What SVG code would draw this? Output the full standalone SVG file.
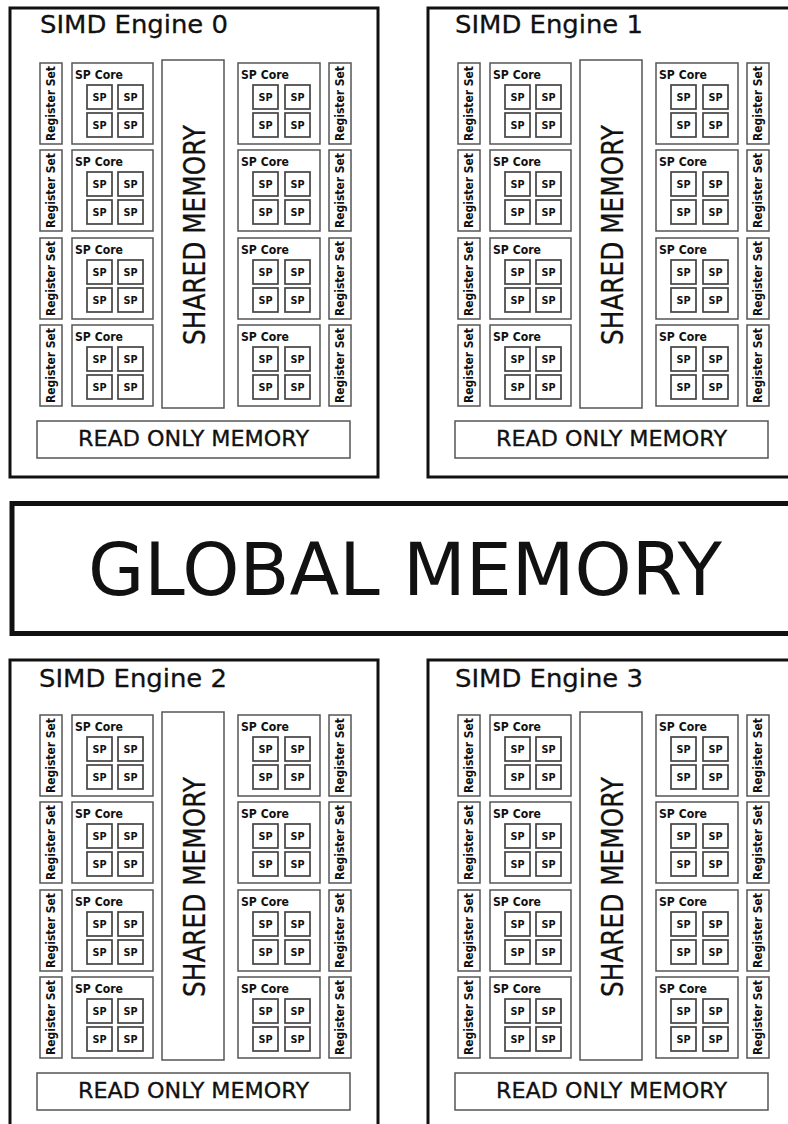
<svg xmlns="http://www.w3.org/2000/svg" width="788" height="1124" viewBox="0 0 788 1124">
<style>
.eng{fill:none;stroke:#111;stroke-width:3}
.box{fill:#fff;stroke:#555;stroke-width:1.5}
.sp{fill:#fff;stroke:#444;stroke-width:1.7}
.t{font-family:"DejaVu Sans","Liberation Sans",sans-serif;fill:#111}
.title{font-size:25.5px;stroke:#111;stroke-width:0.3}
.core{font-size:12px;font-weight:bold}
.spt{font-size:10px;font-weight:bold;text-anchor:middle}
.reg{font-size:12px;font-weight:bold;text-anchor:middle}
.shm{font-size:31px;text-anchor:middle;stroke:#111;stroke-width:0.3}
.rom{font-size:21px;text-anchor:middle;stroke:#111;stroke-width:0.3}
.glob{font-size:73px;text-anchor:middle}
.gbox{fill:#fff;stroke:#111;stroke-width:5}
</style>
<rect width="788" height="1124" fill="#fff"/>

<g id="engine0" transform="translate(0,0)">
<rect class="eng" x="10" y="8" width="368" height="469"/>
<text class="t title" x="40" y="33" textLength="188" lengthAdjust="spacingAndGlyphs">SIMD Engine 0</text>
<g id="e0-regL1" transform="translate(40,63)"><rect class="box" width="22" height="81"/><text class="t reg" transform="translate(15,40.5) rotate(-90)" textLength="75" lengthAdjust="spacingAndGlyphs">Register Set</text></g>
<g id="e0-regL2" transform="translate(40,150)"><rect class="box" width="22" height="81"/><text class="t reg" transform="translate(15,40.5) rotate(-90)" textLength="75" lengthAdjust="spacingAndGlyphs">Register Set</text></g>
<g id="e0-regL3" transform="translate(40,238)"><rect class="box" width="22" height="81"/><text class="t reg" transform="translate(15,40.5) rotate(-90)" textLength="75" lengthAdjust="spacingAndGlyphs">Register Set</text></g>
<g id="e0-regL4" transform="translate(40,325)"><rect class="box" width="22" height="81"/><text class="t reg" transform="translate(15,40.5) rotate(-90)" textLength="75" lengthAdjust="spacingAndGlyphs">Register Set</text></g>
<g id="e0-coreL1" transform="translate(72,63)"><rect class="box" width="81" height="81"/><text class="t core" x="3" y="16" textLength="48" lengthAdjust="spacingAndGlyphs">SP Core</text><rect class="sp" x="15" y="22" width="25" height="24"/><text class="t spt" x="27.5" y="37.8" textLength="14" lengthAdjust="spacingAndGlyphs">SP</text><rect class="sp" x="46" y="22" width="25" height="24"/><text class="t spt" x="58.5" y="37.8" textLength="14" lengthAdjust="spacingAndGlyphs">SP</text><rect class="sp" x="15" y="50" width="25" height="24"/><text class="t spt" x="27.5" y="65.8" textLength="14" lengthAdjust="spacingAndGlyphs">SP</text><rect class="sp" x="46" y="50" width="25" height="24"/><text class="t spt" x="58.5" y="65.8" textLength="14" lengthAdjust="spacingAndGlyphs">SP</text></g>
<g id="e0-coreL2" transform="translate(72,150)"><rect class="box" width="81" height="81"/><text class="t core" x="3" y="16" textLength="48" lengthAdjust="spacingAndGlyphs">SP Core</text><rect class="sp" x="15" y="22" width="25" height="24"/><text class="t spt" x="27.5" y="37.8" textLength="14" lengthAdjust="spacingAndGlyphs">SP</text><rect class="sp" x="46" y="22" width="25" height="24"/><text class="t spt" x="58.5" y="37.8" textLength="14" lengthAdjust="spacingAndGlyphs">SP</text><rect class="sp" x="15" y="50" width="25" height="24"/><text class="t spt" x="27.5" y="65.8" textLength="14" lengthAdjust="spacingAndGlyphs">SP</text><rect class="sp" x="46" y="50" width="25" height="24"/><text class="t spt" x="58.5" y="65.8" textLength="14" lengthAdjust="spacingAndGlyphs">SP</text></g>
<g id="e0-coreL3" transform="translate(72,238)"><rect class="box" width="81" height="81"/><text class="t core" x="3" y="16" textLength="48" lengthAdjust="spacingAndGlyphs">SP Core</text><rect class="sp" x="15" y="22" width="25" height="24"/><text class="t spt" x="27.5" y="37.8" textLength="14" lengthAdjust="spacingAndGlyphs">SP</text><rect class="sp" x="46" y="22" width="25" height="24"/><text class="t spt" x="58.5" y="37.8" textLength="14" lengthAdjust="spacingAndGlyphs">SP</text><rect class="sp" x="15" y="50" width="25" height="24"/><text class="t spt" x="27.5" y="65.8" textLength="14" lengthAdjust="spacingAndGlyphs">SP</text><rect class="sp" x="46" y="50" width="25" height="24"/><text class="t spt" x="58.5" y="65.8" textLength="14" lengthAdjust="spacingAndGlyphs">SP</text></g>
<g id="e0-coreL4" transform="translate(72,325)"><rect class="box" width="81" height="81"/><text class="t core" x="3" y="16" textLength="48" lengthAdjust="spacingAndGlyphs">SP Core</text><rect class="sp" x="15" y="22" width="25" height="24"/><text class="t spt" x="27.5" y="37.8" textLength="14" lengthAdjust="spacingAndGlyphs">SP</text><rect class="sp" x="46" y="22" width="25" height="24"/><text class="t spt" x="58.5" y="37.8" textLength="14" lengthAdjust="spacingAndGlyphs">SP</text><rect class="sp" x="15" y="50" width="25" height="24"/><text class="t spt" x="27.5" y="65.8" textLength="14" lengthAdjust="spacingAndGlyphs">SP</text><rect class="sp" x="46" y="50" width="25" height="24"/><text class="t spt" x="58.5" y="65.8" textLength="14" lengthAdjust="spacingAndGlyphs">SP</text></g>
<g id="e0-shared"><rect class="box" x="162" y="60" width="62" height="348"/><text class="t shm" transform="translate(205,235) rotate(-90)" textLength="220" lengthAdjust="spacingAndGlyphs">SHARED MEMORY</text></g>
<g id="e0-coreR1" transform="translate(238,63)"><rect class="box" width="82" height="81"/><text class="t core" x="3" y="16" textLength="48" lengthAdjust="spacingAndGlyphs">SP Core</text><rect class="sp" x="15" y="22" width="25" height="24"/><text class="t spt" x="27.5" y="37.8" textLength="14" lengthAdjust="spacingAndGlyphs">SP</text><rect class="sp" x="47" y="22" width="25" height="24"/><text class="t spt" x="59.5" y="37.8" textLength="14" lengthAdjust="spacingAndGlyphs">SP</text><rect class="sp" x="15" y="50" width="25" height="24"/><text class="t spt" x="27.5" y="65.8" textLength="14" lengthAdjust="spacingAndGlyphs">SP</text><rect class="sp" x="47" y="50" width="25" height="24"/><text class="t spt" x="59.5" y="65.8" textLength="14" lengthAdjust="spacingAndGlyphs">SP</text></g>
<g id="e0-coreR2" transform="translate(238,150)"><rect class="box" width="82" height="81"/><text class="t core" x="3" y="16" textLength="48" lengthAdjust="spacingAndGlyphs">SP Core</text><rect class="sp" x="15" y="22" width="25" height="24"/><text class="t spt" x="27.5" y="37.8" textLength="14" lengthAdjust="spacingAndGlyphs">SP</text><rect class="sp" x="47" y="22" width="25" height="24"/><text class="t spt" x="59.5" y="37.8" textLength="14" lengthAdjust="spacingAndGlyphs">SP</text><rect class="sp" x="15" y="50" width="25" height="24"/><text class="t spt" x="27.5" y="65.8" textLength="14" lengthAdjust="spacingAndGlyphs">SP</text><rect class="sp" x="47" y="50" width="25" height="24"/><text class="t spt" x="59.5" y="65.8" textLength="14" lengthAdjust="spacingAndGlyphs">SP</text></g>
<g id="e0-coreR3" transform="translate(238,238)"><rect class="box" width="82" height="81"/><text class="t core" x="3" y="16" textLength="48" lengthAdjust="spacingAndGlyphs">SP Core</text><rect class="sp" x="15" y="22" width="25" height="24"/><text class="t spt" x="27.5" y="37.8" textLength="14" lengthAdjust="spacingAndGlyphs">SP</text><rect class="sp" x="47" y="22" width="25" height="24"/><text class="t spt" x="59.5" y="37.8" textLength="14" lengthAdjust="spacingAndGlyphs">SP</text><rect class="sp" x="15" y="50" width="25" height="24"/><text class="t spt" x="27.5" y="65.8" textLength="14" lengthAdjust="spacingAndGlyphs">SP</text><rect class="sp" x="47" y="50" width="25" height="24"/><text class="t spt" x="59.5" y="65.8" textLength="14" lengthAdjust="spacingAndGlyphs">SP</text></g>
<g id="e0-coreR4" transform="translate(238,325)"><rect class="box" width="82" height="81"/><text class="t core" x="3" y="16" textLength="48" lengthAdjust="spacingAndGlyphs">SP Core</text><rect class="sp" x="15" y="22" width="25" height="24"/><text class="t spt" x="27.5" y="37.8" textLength="14" lengthAdjust="spacingAndGlyphs">SP</text><rect class="sp" x="47" y="22" width="25" height="24"/><text class="t spt" x="59.5" y="37.8" textLength="14" lengthAdjust="spacingAndGlyphs">SP</text><rect class="sp" x="15" y="50" width="25" height="24"/><text class="t spt" x="27.5" y="65.8" textLength="14" lengthAdjust="spacingAndGlyphs">SP</text><rect class="sp" x="47" y="50" width="25" height="24"/><text class="t spt" x="59.5" y="65.8" textLength="14" lengthAdjust="spacingAndGlyphs">SP</text></g>
<g id="e0-regR1" transform="translate(329,63)"><rect class="box" width="22" height="81"/><text class="t reg" transform="translate(15,40.5) rotate(-90)" textLength="75" lengthAdjust="spacingAndGlyphs">Register Set</text></g>
<g id="e0-regR2" transform="translate(329,150)"><rect class="box" width="22" height="81"/><text class="t reg" transform="translate(15,40.5) rotate(-90)" textLength="75" lengthAdjust="spacingAndGlyphs">Register Set</text></g>
<g id="e0-regR3" transform="translate(329,238)"><rect class="box" width="22" height="81"/><text class="t reg" transform="translate(15,40.5) rotate(-90)" textLength="75" lengthAdjust="spacingAndGlyphs">Register Set</text></g>
<g id="e0-regR4" transform="translate(329,325)"><rect class="box" width="22" height="81"/><text class="t reg" transform="translate(15,40.5) rotate(-90)" textLength="75" lengthAdjust="spacingAndGlyphs">Register Set</text></g>
<g id="e0-rom"><rect class="box" x="37" y="421" width="313" height="37"/><text class="t rom" x="193.5" y="446" textLength="231" lengthAdjust="spacingAndGlyphs">READ ONLY MEMORY</text></g>
</g>

<g id="engine1" transform="translate(418,0)">
<rect class="eng" x="10" y="8" width="368" height="469"/>
<text class="t title" x="37" y="33" textLength="188" lengthAdjust="spacingAndGlyphs">SIMD Engine 1</text>
<g id="e1-regL1" transform="translate(40,63)"><rect class="box" width="22" height="81"/><text class="t reg" transform="translate(15,40.5) rotate(-90)" textLength="75" lengthAdjust="spacingAndGlyphs">Register Set</text></g>
<g id="e1-regL2" transform="translate(40,150)"><rect class="box" width="22" height="81"/><text class="t reg" transform="translate(15,40.5) rotate(-90)" textLength="75" lengthAdjust="spacingAndGlyphs">Register Set</text></g>
<g id="e1-regL3" transform="translate(40,238)"><rect class="box" width="22" height="81"/><text class="t reg" transform="translate(15,40.5) rotate(-90)" textLength="75" lengthAdjust="spacingAndGlyphs">Register Set</text></g>
<g id="e1-regL4" transform="translate(40,325)"><rect class="box" width="22" height="81"/><text class="t reg" transform="translate(15,40.5) rotate(-90)" textLength="75" lengthAdjust="spacingAndGlyphs">Register Set</text></g>
<g id="e1-coreL1" transform="translate(72,63)"><rect class="box" width="81" height="81"/><text class="t core" x="3" y="16" textLength="48" lengthAdjust="spacingAndGlyphs">SP Core</text><rect class="sp" x="15" y="22" width="25" height="24"/><text class="t spt" x="27.5" y="37.8" textLength="14" lengthAdjust="spacingAndGlyphs">SP</text><rect class="sp" x="46" y="22" width="25" height="24"/><text class="t spt" x="58.5" y="37.8" textLength="14" lengthAdjust="spacingAndGlyphs">SP</text><rect class="sp" x="15" y="50" width="25" height="24"/><text class="t spt" x="27.5" y="65.8" textLength="14" lengthAdjust="spacingAndGlyphs">SP</text><rect class="sp" x="46" y="50" width="25" height="24"/><text class="t spt" x="58.5" y="65.8" textLength="14" lengthAdjust="spacingAndGlyphs">SP</text></g>
<g id="e1-coreL2" transform="translate(72,150)"><rect class="box" width="81" height="81"/><text class="t core" x="3" y="16" textLength="48" lengthAdjust="spacingAndGlyphs">SP Core</text><rect class="sp" x="15" y="22" width="25" height="24"/><text class="t spt" x="27.5" y="37.8" textLength="14" lengthAdjust="spacingAndGlyphs">SP</text><rect class="sp" x="46" y="22" width="25" height="24"/><text class="t spt" x="58.5" y="37.8" textLength="14" lengthAdjust="spacingAndGlyphs">SP</text><rect class="sp" x="15" y="50" width="25" height="24"/><text class="t spt" x="27.5" y="65.8" textLength="14" lengthAdjust="spacingAndGlyphs">SP</text><rect class="sp" x="46" y="50" width="25" height="24"/><text class="t spt" x="58.5" y="65.8" textLength="14" lengthAdjust="spacingAndGlyphs">SP</text></g>
<g id="e1-coreL3" transform="translate(72,238)"><rect class="box" width="81" height="81"/><text class="t core" x="3" y="16" textLength="48" lengthAdjust="spacingAndGlyphs">SP Core</text><rect class="sp" x="15" y="22" width="25" height="24"/><text class="t spt" x="27.5" y="37.8" textLength="14" lengthAdjust="spacingAndGlyphs">SP</text><rect class="sp" x="46" y="22" width="25" height="24"/><text class="t spt" x="58.5" y="37.8" textLength="14" lengthAdjust="spacingAndGlyphs">SP</text><rect class="sp" x="15" y="50" width="25" height="24"/><text class="t spt" x="27.5" y="65.8" textLength="14" lengthAdjust="spacingAndGlyphs">SP</text><rect class="sp" x="46" y="50" width="25" height="24"/><text class="t spt" x="58.5" y="65.8" textLength="14" lengthAdjust="spacingAndGlyphs">SP</text></g>
<g id="e1-coreL4" transform="translate(72,325)"><rect class="box" width="81" height="81"/><text class="t core" x="3" y="16" textLength="48" lengthAdjust="spacingAndGlyphs">SP Core</text><rect class="sp" x="15" y="22" width="25" height="24"/><text class="t spt" x="27.5" y="37.8" textLength="14" lengthAdjust="spacingAndGlyphs">SP</text><rect class="sp" x="46" y="22" width="25" height="24"/><text class="t spt" x="58.5" y="37.8" textLength="14" lengthAdjust="spacingAndGlyphs">SP</text><rect class="sp" x="15" y="50" width="25" height="24"/><text class="t spt" x="27.5" y="65.8" textLength="14" lengthAdjust="spacingAndGlyphs">SP</text><rect class="sp" x="46" y="50" width="25" height="24"/><text class="t spt" x="58.5" y="65.8" textLength="14" lengthAdjust="spacingAndGlyphs">SP</text></g>
<g id="e1-shared"><rect class="box" x="162" y="60" width="62" height="348"/><text class="t shm" transform="translate(205,235) rotate(-90)" textLength="220" lengthAdjust="spacingAndGlyphs">SHARED MEMORY</text></g>
<g id="e1-coreR1" transform="translate(238,63)"><rect class="box" width="82" height="81"/><text class="t core" x="3" y="16" textLength="48" lengthAdjust="spacingAndGlyphs">SP Core</text><rect class="sp" x="15" y="22" width="25" height="24"/><text class="t spt" x="27.5" y="37.8" textLength="14" lengthAdjust="spacingAndGlyphs">SP</text><rect class="sp" x="47" y="22" width="25" height="24"/><text class="t spt" x="59.5" y="37.8" textLength="14" lengthAdjust="spacingAndGlyphs">SP</text><rect class="sp" x="15" y="50" width="25" height="24"/><text class="t spt" x="27.5" y="65.8" textLength="14" lengthAdjust="spacingAndGlyphs">SP</text><rect class="sp" x="47" y="50" width="25" height="24"/><text class="t spt" x="59.5" y="65.8" textLength="14" lengthAdjust="spacingAndGlyphs">SP</text></g>
<g id="e1-coreR2" transform="translate(238,150)"><rect class="box" width="82" height="81"/><text class="t core" x="3" y="16" textLength="48" lengthAdjust="spacingAndGlyphs">SP Core</text><rect class="sp" x="15" y="22" width="25" height="24"/><text class="t spt" x="27.5" y="37.8" textLength="14" lengthAdjust="spacingAndGlyphs">SP</text><rect class="sp" x="47" y="22" width="25" height="24"/><text class="t spt" x="59.5" y="37.8" textLength="14" lengthAdjust="spacingAndGlyphs">SP</text><rect class="sp" x="15" y="50" width="25" height="24"/><text class="t spt" x="27.5" y="65.8" textLength="14" lengthAdjust="spacingAndGlyphs">SP</text><rect class="sp" x="47" y="50" width="25" height="24"/><text class="t spt" x="59.5" y="65.8" textLength="14" lengthAdjust="spacingAndGlyphs">SP</text></g>
<g id="e1-coreR3" transform="translate(238,238)"><rect class="box" width="82" height="81"/><text class="t core" x="3" y="16" textLength="48" lengthAdjust="spacingAndGlyphs">SP Core</text><rect class="sp" x="15" y="22" width="25" height="24"/><text class="t spt" x="27.5" y="37.8" textLength="14" lengthAdjust="spacingAndGlyphs">SP</text><rect class="sp" x="47" y="22" width="25" height="24"/><text class="t spt" x="59.5" y="37.8" textLength="14" lengthAdjust="spacingAndGlyphs">SP</text><rect class="sp" x="15" y="50" width="25" height="24"/><text class="t spt" x="27.5" y="65.8" textLength="14" lengthAdjust="spacingAndGlyphs">SP</text><rect class="sp" x="47" y="50" width="25" height="24"/><text class="t spt" x="59.5" y="65.8" textLength="14" lengthAdjust="spacingAndGlyphs">SP</text></g>
<g id="e1-coreR4" transform="translate(238,325)"><rect class="box" width="82" height="81"/><text class="t core" x="3" y="16" textLength="48" lengthAdjust="spacingAndGlyphs">SP Core</text><rect class="sp" x="15" y="22" width="25" height="24"/><text class="t spt" x="27.5" y="37.8" textLength="14" lengthAdjust="spacingAndGlyphs">SP</text><rect class="sp" x="47" y="22" width="25" height="24"/><text class="t spt" x="59.5" y="37.8" textLength="14" lengthAdjust="spacingAndGlyphs">SP</text><rect class="sp" x="15" y="50" width="25" height="24"/><text class="t spt" x="27.5" y="65.8" textLength="14" lengthAdjust="spacingAndGlyphs">SP</text><rect class="sp" x="47" y="50" width="25" height="24"/><text class="t spt" x="59.5" y="65.8" textLength="14" lengthAdjust="spacingAndGlyphs">SP</text></g>
<g id="e1-regR1" transform="translate(329,63)"><rect class="box" width="22" height="81"/><text class="t reg" transform="translate(15,40.5) rotate(-90)" textLength="75" lengthAdjust="spacingAndGlyphs">Register Set</text></g>
<g id="e1-regR2" transform="translate(329,150)"><rect class="box" width="22" height="81"/><text class="t reg" transform="translate(15,40.5) rotate(-90)" textLength="75" lengthAdjust="spacingAndGlyphs">Register Set</text></g>
<g id="e1-regR3" transform="translate(329,238)"><rect class="box" width="22" height="81"/><text class="t reg" transform="translate(15,40.5) rotate(-90)" textLength="75" lengthAdjust="spacingAndGlyphs">Register Set</text></g>
<g id="e1-regR4" transform="translate(329,325)"><rect class="box" width="22" height="81"/><text class="t reg" transform="translate(15,40.5) rotate(-90)" textLength="75" lengthAdjust="spacingAndGlyphs">Register Set</text></g>
<g id="e1-rom"><rect class="box" x="37" y="421" width="313" height="37"/><text class="t rom" x="193.5" y="446" textLength="231" lengthAdjust="spacingAndGlyphs">READ ONLY MEMORY</text></g>
</g>

<g id="global-memory">
<rect class="gbox" x="12" y="503.5" width="800" height="130"/>
<text class="t glob" x="405" y="595" textLength="634" lengthAdjust="spacingAndGlyphs">GLOBAL MEMORY</text>
</g>

<g id="engine2" transform="translate(0,652)">
<rect class="eng" x="10" y="8" width="368" height="469"/>
<text class="t title" x="39" y="35" textLength="188" lengthAdjust="spacingAndGlyphs">SIMD Engine 2</text>
<g id="e2-regL1" transform="translate(40,63)"><rect class="box" width="22" height="81"/><text class="t reg" transform="translate(15,40.5) rotate(-90)" textLength="75" lengthAdjust="spacingAndGlyphs">Register Set</text></g>
<g id="e2-regL2" transform="translate(40,150)"><rect class="box" width="22" height="81"/><text class="t reg" transform="translate(15,40.5) rotate(-90)" textLength="75" lengthAdjust="spacingAndGlyphs">Register Set</text></g>
<g id="e2-regL3" transform="translate(40,238)"><rect class="box" width="22" height="81"/><text class="t reg" transform="translate(15,40.5) rotate(-90)" textLength="75" lengthAdjust="spacingAndGlyphs">Register Set</text></g>
<g id="e2-regL4" transform="translate(40,325)"><rect class="box" width="22" height="81"/><text class="t reg" transform="translate(15,40.5) rotate(-90)" textLength="75" lengthAdjust="spacingAndGlyphs">Register Set</text></g>
<g id="e2-coreL1" transform="translate(72,63)"><rect class="box" width="81" height="81"/><text class="t core" x="3" y="16" textLength="48" lengthAdjust="spacingAndGlyphs">SP Core</text><rect class="sp" x="15" y="22" width="25" height="24"/><text class="t spt" x="27.5" y="37.8" textLength="14" lengthAdjust="spacingAndGlyphs">SP</text><rect class="sp" x="46" y="22" width="25" height="24"/><text class="t spt" x="58.5" y="37.8" textLength="14" lengthAdjust="spacingAndGlyphs">SP</text><rect class="sp" x="15" y="50" width="25" height="24"/><text class="t spt" x="27.5" y="65.8" textLength="14" lengthAdjust="spacingAndGlyphs">SP</text><rect class="sp" x="46" y="50" width="25" height="24"/><text class="t spt" x="58.5" y="65.8" textLength="14" lengthAdjust="spacingAndGlyphs">SP</text></g>
<g id="e2-coreL2" transform="translate(72,150)"><rect class="box" width="81" height="81"/><text class="t core" x="3" y="16" textLength="48" lengthAdjust="spacingAndGlyphs">SP Core</text><rect class="sp" x="15" y="22" width="25" height="24"/><text class="t spt" x="27.5" y="37.8" textLength="14" lengthAdjust="spacingAndGlyphs">SP</text><rect class="sp" x="46" y="22" width="25" height="24"/><text class="t spt" x="58.5" y="37.8" textLength="14" lengthAdjust="spacingAndGlyphs">SP</text><rect class="sp" x="15" y="50" width="25" height="24"/><text class="t spt" x="27.5" y="65.8" textLength="14" lengthAdjust="spacingAndGlyphs">SP</text><rect class="sp" x="46" y="50" width="25" height="24"/><text class="t spt" x="58.5" y="65.8" textLength="14" lengthAdjust="spacingAndGlyphs">SP</text></g>
<g id="e2-coreL3" transform="translate(72,238)"><rect class="box" width="81" height="81"/><text class="t core" x="3" y="16" textLength="48" lengthAdjust="spacingAndGlyphs">SP Core</text><rect class="sp" x="15" y="22" width="25" height="24"/><text class="t spt" x="27.5" y="37.8" textLength="14" lengthAdjust="spacingAndGlyphs">SP</text><rect class="sp" x="46" y="22" width="25" height="24"/><text class="t spt" x="58.5" y="37.8" textLength="14" lengthAdjust="spacingAndGlyphs">SP</text><rect class="sp" x="15" y="50" width="25" height="24"/><text class="t spt" x="27.5" y="65.8" textLength="14" lengthAdjust="spacingAndGlyphs">SP</text><rect class="sp" x="46" y="50" width="25" height="24"/><text class="t spt" x="58.5" y="65.8" textLength="14" lengthAdjust="spacingAndGlyphs">SP</text></g>
<g id="e2-coreL4" transform="translate(72,325)"><rect class="box" width="81" height="81"/><text class="t core" x="3" y="16" textLength="48" lengthAdjust="spacingAndGlyphs">SP Core</text><rect class="sp" x="15" y="22" width="25" height="24"/><text class="t spt" x="27.5" y="37.8" textLength="14" lengthAdjust="spacingAndGlyphs">SP</text><rect class="sp" x="46" y="22" width="25" height="24"/><text class="t spt" x="58.5" y="37.8" textLength="14" lengthAdjust="spacingAndGlyphs">SP</text><rect class="sp" x="15" y="50" width="25" height="24"/><text class="t spt" x="27.5" y="65.8" textLength="14" lengthAdjust="spacingAndGlyphs">SP</text><rect class="sp" x="46" y="50" width="25" height="24"/><text class="t spt" x="58.5" y="65.8" textLength="14" lengthAdjust="spacingAndGlyphs">SP</text></g>
<g id="e2-shared"><rect class="box" x="162" y="60" width="62" height="348"/><text class="t shm" transform="translate(205,235) rotate(-90)" textLength="220" lengthAdjust="spacingAndGlyphs">SHARED MEMORY</text></g>
<g id="e2-coreR1" transform="translate(238,63)"><rect class="box" width="82" height="81"/><text class="t core" x="3" y="16" textLength="48" lengthAdjust="spacingAndGlyphs">SP Core</text><rect class="sp" x="15" y="22" width="25" height="24"/><text class="t spt" x="27.5" y="37.8" textLength="14" lengthAdjust="spacingAndGlyphs">SP</text><rect class="sp" x="47" y="22" width="25" height="24"/><text class="t spt" x="59.5" y="37.8" textLength="14" lengthAdjust="spacingAndGlyphs">SP</text><rect class="sp" x="15" y="50" width="25" height="24"/><text class="t spt" x="27.5" y="65.8" textLength="14" lengthAdjust="spacingAndGlyphs">SP</text><rect class="sp" x="47" y="50" width="25" height="24"/><text class="t spt" x="59.5" y="65.8" textLength="14" lengthAdjust="spacingAndGlyphs">SP</text></g>
<g id="e2-coreR2" transform="translate(238,150)"><rect class="box" width="82" height="81"/><text class="t core" x="3" y="16" textLength="48" lengthAdjust="spacingAndGlyphs">SP Core</text><rect class="sp" x="15" y="22" width="25" height="24"/><text class="t spt" x="27.5" y="37.8" textLength="14" lengthAdjust="spacingAndGlyphs">SP</text><rect class="sp" x="47" y="22" width="25" height="24"/><text class="t spt" x="59.5" y="37.8" textLength="14" lengthAdjust="spacingAndGlyphs">SP</text><rect class="sp" x="15" y="50" width="25" height="24"/><text class="t spt" x="27.5" y="65.8" textLength="14" lengthAdjust="spacingAndGlyphs">SP</text><rect class="sp" x="47" y="50" width="25" height="24"/><text class="t spt" x="59.5" y="65.8" textLength="14" lengthAdjust="spacingAndGlyphs">SP</text></g>
<g id="e2-coreR3" transform="translate(238,238)"><rect class="box" width="82" height="81"/><text class="t core" x="3" y="16" textLength="48" lengthAdjust="spacingAndGlyphs">SP Core</text><rect class="sp" x="15" y="22" width="25" height="24"/><text class="t spt" x="27.5" y="37.8" textLength="14" lengthAdjust="spacingAndGlyphs">SP</text><rect class="sp" x="47" y="22" width="25" height="24"/><text class="t spt" x="59.5" y="37.8" textLength="14" lengthAdjust="spacingAndGlyphs">SP</text><rect class="sp" x="15" y="50" width="25" height="24"/><text class="t spt" x="27.5" y="65.8" textLength="14" lengthAdjust="spacingAndGlyphs">SP</text><rect class="sp" x="47" y="50" width="25" height="24"/><text class="t spt" x="59.5" y="65.8" textLength="14" lengthAdjust="spacingAndGlyphs">SP</text></g>
<g id="e2-coreR4" transform="translate(238,325)"><rect class="box" width="82" height="81"/><text class="t core" x="3" y="16" textLength="48" lengthAdjust="spacingAndGlyphs">SP Core</text><rect class="sp" x="15" y="22" width="25" height="24"/><text class="t spt" x="27.5" y="37.8" textLength="14" lengthAdjust="spacingAndGlyphs">SP</text><rect class="sp" x="47" y="22" width="25" height="24"/><text class="t spt" x="59.5" y="37.8" textLength="14" lengthAdjust="spacingAndGlyphs">SP</text><rect class="sp" x="15" y="50" width="25" height="24"/><text class="t spt" x="27.5" y="65.8" textLength="14" lengthAdjust="spacingAndGlyphs">SP</text><rect class="sp" x="47" y="50" width="25" height="24"/><text class="t spt" x="59.5" y="65.8" textLength="14" lengthAdjust="spacingAndGlyphs">SP</text></g>
<g id="e2-regR1" transform="translate(329,63)"><rect class="box" width="22" height="81"/><text class="t reg" transform="translate(15,40.5) rotate(-90)" textLength="75" lengthAdjust="spacingAndGlyphs">Register Set</text></g>
<g id="e2-regR2" transform="translate(329,150)"><rect class="box" width="22" height="81"/><text class="t reg" transform="translate(15,40.5) rotate(-90)" textLength="75" lengthAdjust="spacingAndGlyphs">Register Set</text></g>
<g id="e2-regR3" transform="translate(329,238)"><rect class="box" width="22" height="81"/><text class="t reg" transform="translate(15,40.5) rotate(-90)" textLength="75" lengthAdjust="spacingAndGlyphs">Register Set</text></g>
<g id="e2-regR4" transform="translate(329,325)"><rect class="box" width="22" height="81"/><text class="t reg" transform="translate(15,40.5) rotate(-90)" textLength="75" lengthAdjust="spacingAndGlyphs">Register Set</text></g>
<g id="e2-rom"><rect class="box" x="37" y="421" width="313" height="37"/><text class="t rom" x="193.5" y="446" textLength="231" lengthAdjust="spacingAndGlyphs">READ ONLY MEMORY</text></g>
</g>

<g id="engine3" transform="translate(418,652)">
<rect class="eng" x="10" y="8" width="368" height="469"/>
<text class="t title" x="37" y="35" textLength="188" lengthAdjust="spacingAndGlyphs">SIMD Engine 3</text>
<g id="e3-regL1" transform="translate(40,63)"><rect class="box" width="22" height="81"/><text class="t reg" transform="translate(15,40.5) rotate(-90)" textLength="75" lengthAdjust="spacingAndGlyphs">Register Set</text></g>
<g id="e3-regL2" transform="translate(40,150)"><rect class="box" width="22" height="81"/><text class="t reg" transform="translate(15,40.5) rotate(-90)" textLength="75" lengthAdjust="spacingAndGlyphs">Register Set</text></g>
<g id="e3-regL3" transform="translate(40,238)"><rect class="box" width="22" height="81"/><text class="t reg" transform="translate(15,40.5) rotate(-90)" textLength="75" lengthAdjust="spacingAndGlyphs">Register Set</text></g>
<g id="e3-regL4" transform="translate(40,325)"><rect class="box" width="22" height="81"/><text class="t reg" transform="translate(15,40.5) rotate(-90)" textLength="75" lengthAdjust="spacingAndGlyphs">Register Set</text></g>
<g id="e3-coreL1" transform="translate(72,63)"><rect class="box" width="81" height="81"/><text class="t core" x="3" y="16" textLength="48" lengthAdjust="spacingAndGlyphs">SP Core</text><rect class="sp" x="15" y="22" width="25" height="24"/><text class="t spt" x="27.5" y="37.8" textLength="14" lengthAdjust="spacingAndGlyphs">SP</text><rect class="sp" x="46" y="22" width="25" height="24"/><text class="t spt" x="58.5" y="37.8" textLength="14" lengthAdjust="spacingAndGlyphs">SP</text><rect class="sp" x="15" y="50" width="25" height="24"/><text class="t spt" x="27.5" y="65.8" textLength="14" lengthAdjust="spacingAndGlyphs">SP</text><rect class="sp" x="46" y="50" width="25" height="24"/><text class="t spt" x="58.5" y="65.8" textLength="14" lengthAdjust="spacingAndGlyphs">SP</text></g>
<g id="e3-coreL2" transform="translate(72,150)"><rect class="box" width="81" height="81"/><text class="t core" x="3" y="16" textLength="48" lengthAdjust="spacingAndGlyphs">SP Core</text><rect class="sp" x="15" y="22" width="25" height="24"/><text class="t spt" x="27.5" y="37.8" textLength="14" lengthAdjust="spacingAndGlyphs">SP</text><rect class="sp" x="46" y="22" width="25" height="24"/><text class="t spt" x="58.5" y="37.8" textLength="14" lengthAdjust="spacingAndGlyphs">SP</text><rect class="sp" x="15" y="50" width="25" height="24"/><text class="t spt" x="27.5" y="65.8" textLength="14" lengthAdjust="spacingAndGlyphs">SP</text><rect class="sp" x="46" y="50" width="25" height="24"/><text class="t spt" x="58.5" y="65.8" textLength="14" lengthAdjust="spacingAndGlyphs">SP</text></g>
<g id="e3-coreL3" transform="translate(72,238)"><rect class="box" width="81" height="81"/><text class="t core" x="3" y="16" textLength="48" lengthAdjust="spacingAndGlyphs">SP Core</text><rect class="sp" x="15" y="22" width="25" height="24"/><text class="t spt" x="27.5" y="37.8" textLength="14" lengthAdjust="spacingAndGlyphs">SP</text><rect class="sp" x="46" y="22" width="25" height="24"/><text class="t spt" x="58.5" y="37.8" textLength="14" lengthAdjust="spacingAndGlyphs">SP</text><rect class="sp" x="15" y="50" width="25" height="24"/><text class="t spt" x="27.5" y="65.8" textLength="14" lengthAdjust="spacingAndGlyphs">SP</text><rect class="sp" x="46" y="50" width="25" height="24"/><text class="t spt" x="58.5" y="65.8" textLength="14" lengthAdjust="spacingAndGlyphs">SP</text></g>
<g id="e3-coreL4" transform="translate(72,325)"><rect class="box" width="81" height="81"/><text class="t core" x="3" y="16" textLength="48" lengthAdjust="spacingAndGlyphs">SP Core</text><rect class="sp" x="15" y="22" width="25" height="24"/><text class="t spt" x="27.5" y="37.8" textLength="14" lengthAdjust="spacingAndGlyphs">SP</text><rect class="sp" x="46" y="22" width="25" height="24"/><text class="t spt" x="58.5" y="37.8" textLength="14" lengthAdjust="spacingAndGlyphs">SP</text><rect class="sp" x="15" y="50" width="25" height="24"/><text class="t spt" x="27.5" y="65.8" textLength="14" lengthAdjust="spacingAndGlyphs">SP</text><rect class="sp" x="46" y="50" width="25" height="24"/><text class="t spt" x="58.5" y="65.8" textLength="14" lengthAdjust="spacingAndGlyphs">SP</text></g>
<g id="e3-shared"><rect class="box" x="162" y="60" width="62" height="348"/><text class="t shm" transform="translate(205,235) rotate(-90)" textLength="220" lengthAdjust="spacingAndGlyphs">SHARED MEMORY</text></g>
<g id="e3-coreR1" transform="translate(238,63)"><rect class="box" width="82" height="81"/><text class="t core" x="3" y="16" textLength="48" lengthAdjust="spacingAndGlyphs">SP Core</text><rect class="sp" x="15" y="22" width="25" height="24"/><text class="t spt" x="27.5" y="37.8" textLength="14" lengthAdjust="spacingAndGlyphs">SP</text><rect class="sp" x="47" y="22" width="25" height="24"/><text class="t spt" x="59.5" y="37.8" textLength="14" lengthAdjust="spacingAndGlyphs">SP</text><rect class="sp" x="15" y="50" width="25" height="24"/><text class="t spt" x="27.5" y="65.8" textLength="14" lengthAdjust="spacingAndGlyphs">SP</text><rect class="sp" x="47" y="50" width="25" height="24"/><text class="t spt" x="59.5" y="65.8" textLength="14" lengthAdjust="spacingAndGlyphs">SP</text></g>
<g id="e3-coreR2" transform="translate(238,150)"><rect class="box" width="82" height="81"/><text class="t core" x="3" y="16" textLength="48" lengthAdjust="spacingAndGlyphs">SP Core</text><rect class="sp" x="15" y="22" width="25" height="24"/><text class="t spt" x="27.5" y="37.8" textLength="14" lengthAdjust="spacingAndGlyphs">SP</text><rect class="sp" x="47" y="22" width="25" height="24"/><text class="t spt" x="59.5" y="37.8" textLength="14" lengthAdjust="spacingAndGlyphs">SP</text><rect class="sp" x="15" y="50" width="25" height="24"/><text class="t spt" x="27.5" y="65.8" textLength="14" lengthAdjust="spacingAndGlyphs">SP</text><rect class="sp" x="47" y="50" width="25" height="24"/><text class="t spt" x="59.5" y="65.8" textLength="14" lengthAdjust="spacingAndGlyphs">SP</text></g>
<g id="e3-coreR3" transform="translate(238,238)"><rect class="box" width="82" height="81"/><text class="t core" x="3" y="16" textLength="48" lengthAdjust="spacingAndGlyphs">SP Core</text><rect class="sp" x="15" y="22" width="25" height="24"/><text class="t spt" x="27.5" y="37.8" textLength="14" lengthAdjust="spacingAndGlyphs">SP</text><rect class="sp" x="47" y="22" width="25" height="24"/><text class="t spt" x="59.5" y="37.8" textLength="14" lengthAdjust="spacingAndGlyphs">SP</text><rect class="sp" x="15" y="50" width="25" height="24"/><text class="t spt" x="27.5" y="65.8" textLength="14" lengthAdjust="spacingAndGlyphs">SP</text><rect class="sp" x="47" y="50" width="25" height="24"/><text class="t spt" x="59.5" y="65.8" textLength="14" lengthAdjust="spacingAndGlyphs">SP</text></g>
<g id="e3-coreR4" transform="translate(238,325)"><rect class="box" width="82" height="81"/><text class="t core" x="3" y="16" textLength="48" lengthAdjust="spacingAndGlyphs">SP Core</text><rect class="sp" x="15" y="22" width="25" height="24"/><text class="t spt" x="27.5" y="37.8" textLength="14" lengthAdjust="spacingAndGlyphs">SP</text><rect class="sp" x="47" y="22" width="25" height="24"/><text class="t spt" x="59.5" y="37.8" textLength="14" lengthAdjust="spacingAndGlyphs">SP</text><rect class="sp" x="15" y="50" width="25" height="24"/><text class="t spt" x="27.5" y="65.8" textLength="14" lengthAdjust="spacingAndGlyphs">SP</text><rect class="sp" x="47" y="50" width="25" height="24"/><text class="t spt" x="59.5" y="65.8" textLength="14" lengthAdjust="spacingAndGlyphs">SP</text></g>
<g id="e3-regR1" transform="translate(329,63)"><rect class="box" width="22" height="81"/><text class="t reg" transform="translate(15,40.5) rotate(-90)" textLength="75" lengthAdjust="spacingAndGlyphs">Register Set</text></g>
<g id="e3-regR2" transform="translate(329,150)"><rect class="box" width="22" height="81"/><text class="t reg" transform="translate(15,40.5) rotate(-90)" textLength="75" lengthAdjust="spacingAndGlyphs">Register Set</text></g>
<g id="e3-regR3" transform="translate(329,238)"><rect class="box" width="22" height="81"/><text class="t reg" transform="translate(15,40.5) rotate(-90)" textLength="75" lengthAdjust="spacingAndGlyphs">Register Set</text></g>
<g id="e3-regR4" transform="translate(329,325)"><rect class="box" width="22" height="81"/><text class="t reg" transform="translate(15,40.5) rotate(-90)" textLength="75" lengthAdjust="spacingAndGlyphs">Register Set</text></g>
<g id="e3-rom"><rect class="box" x="37" y="421" width="313" height="37"/><text class="t rom" x="193.5" y="446" textLength="231" lengthAdjust="spacingAndGlyphs">READ ONLY MEMORY</text></g>
</g>

<g id="connectors"/>
</svg>
